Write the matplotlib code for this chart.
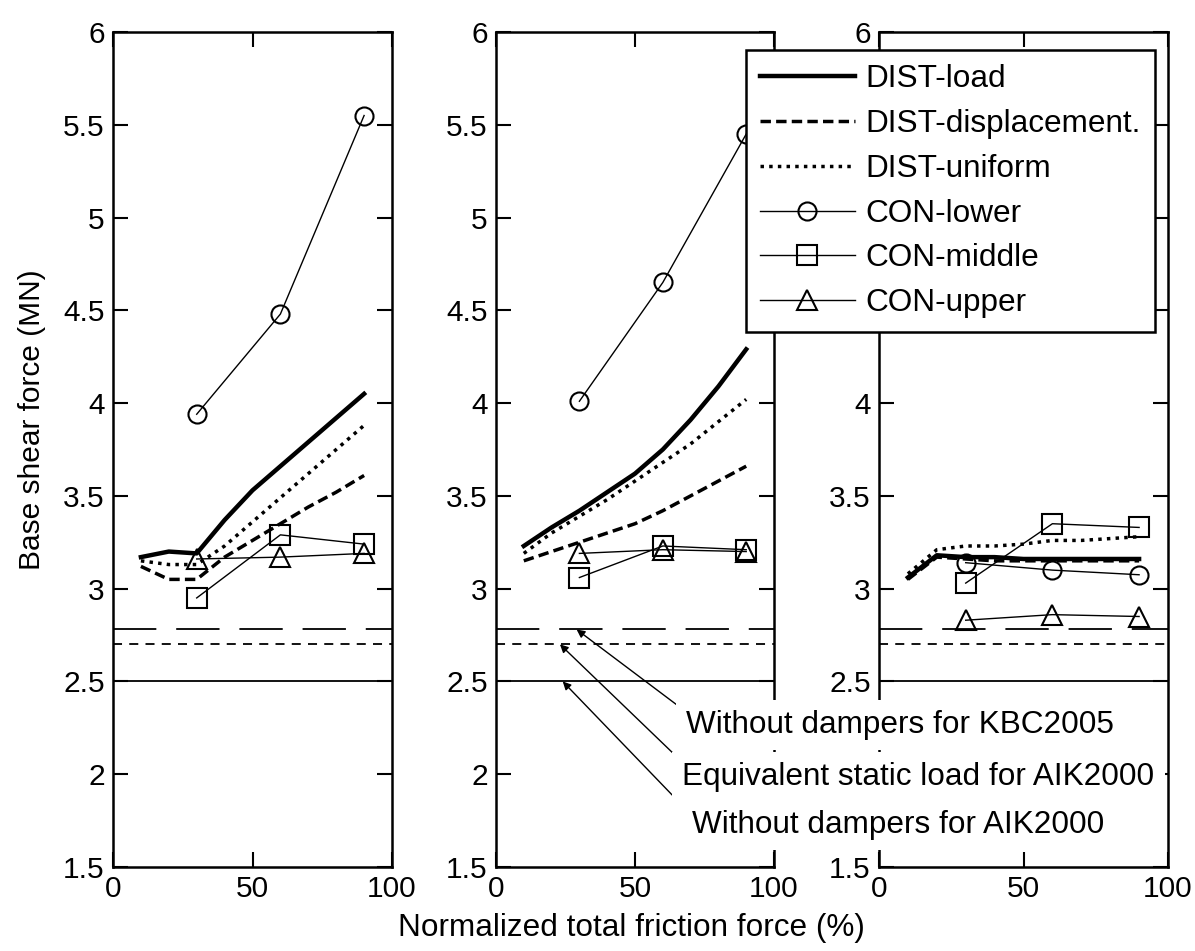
import numpy as np
import matplotlib
matplotlib.use('Agg')
import matplotlib.pyplot as plt

plt.rcParams['font.family'] = ['Liberation Sans', 'DejaVu Sans']

# data
x_dist = [10, 20, 30, 40, 50, 60, 70, 80, 90]
x_con = [30, 60, 90]

# left panel
load_1 = [3.17, 3.20, 3.19, 3.37, 3.53, 3.66, 3.79, 3.92, 4.05]
disp_1 = [3.12, 3.05, 3.05, 3.17, 3.26, 3.35, 3.44, 3.52, 3.61]
unif_1 = [3.15, 3.13, 3.13, 3.23, 3.36, 3.49, 3.62, 3.75, 3.88]
lower_1 = [3.94, 4.48, 5.55]
middle_1 = [2.95, 3.29, 3.24]
upper_1 = [3.16, 3.17, 3.19]

# middle panel
load_2 = [3.23, 3.33, 3.42, 3.52, 3.62, 3.75, 3.91, 4.09, 4.29]
disp_2 = [3.15, 3.20, 3.25, 3.30, 3.35, 3.42, 3.50, 3.58, 3.66]
unif_2 = [3.19, 3.30, 3.39, 3.48, 3.58, 3.68, 3.78, 3.90, 4.02]
lower_2 = [4.01, 4.65, 5.45]
middle_2 = [3.06, 3.23, 3.21]
upper_2 = [3.19, 3.21, 3.20]

# right panel
load_3 = [3.06, 3.18, 3.17, 3.17, 3.16, 3.16, 3.16, 3.16, 3.16]
disp_3 = [3.05, 3.17, 3.16, 3.15, 3.15, 3.15, 3.15, 3.15, 3.15]
unif_3 = [3.08, 3.21, 3.23, 3.23, 3.24, 3.26, 3.26, 3.27, 3.28]
lower_3 = [3.14, 3.10, 3.075]
middle_3 = [3.03, 3.35, 3.33]
upper_3 = [2.83, 2.86, 2.85]

panels = [
    (load_1, disp_1, unif_1, lower_1, middle_1, upper_1),
    (load_2, disp_2, unif_2, lower_2, middle_2, upper_2),
    (load_3, disp_3, unif_3, lower_3, middle_3, upper_3),
]

# reference levels (MN)
kbc2005 = 2.78
aik_static = 2.70
aik2000 = 2.50

yticks = [1.5, 2, 2.5, 3, 3.5, 4, 4.5, 5, 5.5, 6]
ylabels = ['1.5', '2', '2.5', '3', '3.5', '4', '4.5', '5', '5.5', '6']
# right panel: labels hidden under the legend / notes in the original
ylabels_3 = ['1.5', '', '2.5', '3', '3.5', '4', '', '', '', '6']

W, H = 1195, 951
fig = plt.figure(figsize=(W / 100, H / 100), dpi=100)

# axes boxes in pixels: left, right
boxes = [(113, 392), (496, 774), (879, 1168)]
top, bot = 32, 867
fs = 21.5
fs_big = 22.7

axs = []
for i, ((l, r), (ld, dp, un, lo, mi, up)) in enumerate(zip(boxes, panels)):
    ax = fig.add_axes([l / W, 1 - bot / H, (r - l) / W, (bot - top) / H])
    ax.plot(x_dist, ld, 'k-', lw=3.2)
    ax.plot(x_dist, dp, 'k', lw=2.5, ls=(0, (3, 1.5)))
    ax.plot(x_dist, un, 'k', lw=2.5, ls=(0, (1, 1.5)))
    ax.plot(x_con, lo, 'k-', lw=1, marker='o', ms=13, mfc='none', mew=1.5)
    ax.plot(x_con, mi, 'k-', lw=1, marker='s', ms=15, mfc='none', mew=1.5)
    ax.plot(x_con, up, 'k-', lw=1, marker='^', ms=14, mfc='none', mew=1.5)
    ax.axhline(kbc2005, color='k', lw=1.3, ls=(0, (24, 11)))
    ax.axhline(aik_static, color='k', lw=1.3, ls=(0, (5, 4)))
    ax.axhline(aik2000, color='k', lw=1.3)
    ax.set_xlim(0, 100)
    ax.set_ylim(1.5, 6)
    ax.set_xticks([0, 50, 100])
    ax.set_yticks(yticks)
    ax.set_yticklabels(ylabels_3 if i == 2 else ylabels)
    ax.tick_params(direction='in', length=11, width=1.5, top=True, right=True,
                   labelsize=fs, pad=6)
    for s in ax.spines.values():
        s.set_linewidth(1.8)
    axs.append(ax)

# legend
names = ['DIST-load', 'DIST-displacement.', 'DIST-uniform',
         'CON-lower', 'CON-middle', 'CON-upper']
fig.legend(axs[0].lines[:6], names, loc='upper left',
           bbox_to_anchor=(746 / W, 1 - 50 / H), borderaxespad=0,
           fontsize=fs_big, fancybox=False, edgecolor='k', framealpha=1,
           handlelength=3.0, handletextpad=0.35, labelspacing=0.47,
           borderpad=0.45).get_frame().set_linewidth(1.8)

# annotation texts and arrows
notes = ['Without dampers for KBC2005', 'Equivalent static load for AIK2000',
         'Without dampers for AIK2000']
note_pos = [(686, 725), (682, 777), (692, 825)]
targets = [(29, kbc2005), (23, aik_static), (24, aik2000)]
tails = [(681, 708), (677, 757), (677, 800)]
for t, (px, py) in zip(notes, note_pos):
    fig.text(px / W, 1 - py / H, t, fontsize=fs_big, ha='left', va='center',
             zorder=10, bbox=dict(facecolor='white', edgecolor='none', pad=7.5))
for (xt, yt), (px, py) in zip(targets, tails):
    axs[1].annotate('', xy=(xt, yt), xycoords='data',
                    xytext=(px, H - py), textcoords='figure pixels',
                    arrowprops=dict(arrowstyle='-|>', lw=1, color='k',
                                    mutation_scale=12, shrinkA=0, shrinkB=0),
                    annotation_clip=False, zorder=11)

fig.text(32 / W, 1 - 420 / H, 'Base shear force (MN)', fontsize=fs,
         rotation=90, ha='center', va='center')
fig.text(631 / W, 1 - 928 / H, 'Normalized total friction force (%)',
         fontsize=fs_big, ha='center', va='center')

fig.savefig('out.png', dpi=100)
